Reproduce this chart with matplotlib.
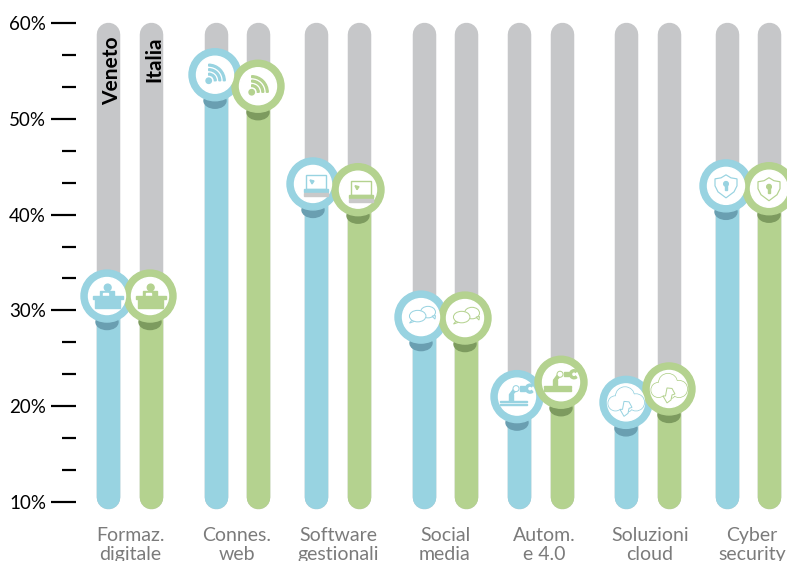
# digital skills chart, Veneto vs Italia

import numpy as np
import matplotlib
matplotlib.use('Agg')
import matplotlib.pyplot as plt
from matplotlib.patches import Circle, Ellipse, Rectangle, Wedge, Polygon
from matplotlib.transforms import Affine2D

plt.rcParams['font.family'] = ['Lato', 'DejaVu Sans']

categories = ['Formaz.\ndigitale', 'Connes.\nweb', 'Software\ngestionali', 'Social\nmedia',
              'Autom.\ne 4.0', 'Soluzioni\ncloud', 'Cyber\nsecurity']
veneto = [31.5, 54.6, 43.2, 29.3, 21.0, 20.4, 43.0]
italia = [31.5, 53.4, 42.6, 29.2, 22.5, 21.8, 42.7]
icons = ['desk', 'wifi', 'laptop', 'chat', 'robot', 'cloud', 'shield']

# layout, all in pixels of the picture
W, H = 787, 561
bar_x_v = [108, 215.5, 316, 424, 519, 626, 727]
bar_x_i = [151, 258, 359, 466, 562, 669, 769]
badge_x_v = [107, 215, 313, 421, 517, 626, 726]
badge_x_i = [150, 258, 358, 465, 561, 669, 769]
label_x = [130, 237, 338, 445, 544, 650, 752]
bar_w = 23.5

BLUE = '#98d3e1'
GREEN = '#b4d28f'
GREY = '#c6c7c9'
BLUE_DK = '#6a9fb1'
GREEN_DK = '#7d9b5f'
PX = 0.72  # points per pixel at dpi 100

fig = plt.figure(figsize=(W / 100, H / 100), dpi=100)
ax = fig.add_axes([76 / W, 0, 1 - 76 / W, 1])
ax.set_xlim(76, W)
# 60% sits at pixel 23, 10% at pixel 502
per = (502 - 23) / 50
ax.set_ylim(10 - (H - 502) / per, 60 + 23 / per)
for s in ax.spines.values():
    s.set_visible(False)
ax.patch.set_alpha(0)

# axis ticks
ax.set_xticks([])
ax.set_yticks([10, 20, 30, 40, 50, 60])
ax.set_yticklabels(['10%', '20%', '30%', '40%', '50%', '60%'])
ax.set_yticks([v for v in np.arange(10, 60, 10 / 3) if round(v) % 10 != 0], minor=True)
ax.tick_params(axis='y', which='major', length=25 * PX, width=2.2 * PX, pad=5 * PX,
               labelsize=13.5, color='black')
ax.tick_params(axis='y', which='minor', length=14 * PX, width=2.2 * PX, color='black')


# icons are drawn in pixels round the badge centre, y going up
def add(tr, patch):
    patch.set_transform(tr)
    patch.set_zorder(6)
    patch.set_clip_on(False)
    ax.add_patch(patch)


def outline(c, lw=1.0):
    return dict(facecolor='white', edgecolor=c, linewidth=lw * PX)


def draw_icon(name, tr, c):
    if name == 'desk':
        add(tr, Circle((0.7, 8.5), 3.4, color=c))
        add(tr, Rectangle((-7, 0), 14, 5.2, color=c))
        add(tr, Rectangle((-4.5, 0.5), 5, 3, color='white'))
        add(tr, Rectangle((-14.5, -3), 30, 3, color=c))
        add(tr, Rectangle((-12, -11.5), 24.5, 8.5, color=c))
    elif name == 'wifi':
        add(tr, Circle((-6.3, -6), 2.7, color=c))
        for r in [7.5, 12, 16.5]:
            add(tr, Wedge((-6.3, -6), r, 0, 90, width=1.8, color=c))
    elif name == 'laptop':
        add(tr, Rectangle((-7, -5), 20, 14, **outline(c, 1.4)))
        add(tr, Polygon([(-3, 4), (1, 3), (-1, 0)], color=c))
        add(tr, Rectangle((-9, -8.5), 24, 3.2, color=c))
        add(tr, Rectangle((-9, -12.5), 24, 3, color='#c9c9c9'))
    elif name == 'chat':
        add(tr, Ellipse((7, 5), 15, 11.5, **outline(c)))
        add(tr, Polygon([(11, 1), (14, -2), (14.5, 1.5)], **outline(c)))
        add(tr, Polygon([(-9, -3), (-11.5, -6), (-6, -4)], **outline(c)))
        add(tr, Ellipse((-3.3, 1), 16.5, 11.5, **outline(c)))
    elif name == 'robot':
        add(tr, Rectangle((-17, -5.5), 27, 1.5, color=c))
        add(tr, Rectangle((-17, -8.5), 27, 1.5, color=c))
        add(tr, Rectangle((-8.5, -4), 4.5, 6.5, color=c))
        add(tr, Polygon([(-7.5, 2), (-4.5, 2), (0, 7), (-2, 9.5)], color=c))
        add(tr, Circle((-1, 8), 3, **outline(c)))
        add(tr, Rectangle((3, 6), 5, 4.5, color=c))
        add(tr, Wedge((13, 8), 4.5, 50, 310, width=2, color=c))
    elif name == 'cloud':
        lobes = [((-10.5, -1), 6.5), ((-1, 6), 8.5), ((10, 0), 7.5), ((0, -3), 6)]
        for xy, r in lobes:
            add(tr, Circle(xy, r + 0.8, color=c))
        for xy, r in lobes:
            add(tr, Circle(xy, r, color='white'))
        add(tr, Polygon([(-2, -14), (-6, -7), (-3.5, -7), (-2, 1), (3, 0.5), (6, -5),
                         (3, -6), (2, -11)], **outline(c)))
    elif name == 'shield':
        add(tr, Polygon([(0, 11), (-5, 8), (-11, 7), (-11, 0), (-8, -6), (0, -12),
                         (8, -6), (11, 0), (11, 7), (5, 8)], **outline(c, 1.2)))
        add(tr, Circle((0, 2), 2.3, color=c))
        add(tr, Rectangle((-1, -4.5), 2, 6, color=c))


def draw_badge(x, val, c, dark, name):
    # badge centre comes from the data scale
    cx, cy = ax.transData.transform((x, val))
    tr = Affine2D().translate(cx, cy)
    sh = Ellipse((0, -26), 22, 15, color=dark)
    sh.set_transform(tr)
    sh.set_zorder(3)
    ax.add_patch(sh)
    for r, col, z in [(26, c, 4), (18.5, 'white', 5)]:
        p = Circle((0, 0), r, color=col)
        p.set_transform(tr)
        p.set_zorder(z)
        p.set_clip_on(False)
        ax.add_patch(p)
    draw_icon(name, tr, c)


# rounded bars: the caps add half a bar width past the line ends
low = 10.55
high = 58.85
for xs, vals, c in [(bar_x_v, veneto, BLUE), (bar_x_i, italia, GREEN)]:
    for x, v in zip(xs, vals):
        ax.plot([x, x], [low, high], color=GREY, lw=bar_w * PX, solid_capstyle='round', zorder=1)
        ax.plot([x, x], [low, v], color=c, lw=bar_w * PX, solid_capstyle='round', zorder=2)

for i in range(len(categories)):
    draw_badge(badge_x_v[i], veneto[i], BLUE, BLUE_DK, icons[i])
    draw_badge(badge_x_i[i], italia[i], GREEN, GREEN_DK, icons[i])

# text, x in data and y as a fraction of the picture height
tr_text = ax.get_xaxis_transform()
for x, lab in zip(label_x, categories):
    ax.text(x, 1 - 527 / H, lab, transform=tr_text, ha='center', va='top', fontsize=14,
            color='#7b7b7b', linespacing=1.12, clip_on=False)

ax.text(bar_x_v[0] + 4, 1 - 36 / H, 'Veneto', transform=tr_text, rotation=90, ha='center', va='top',
        fontsize=15, fontweight='bold', color='black', zorder=7)
ax.text(bar_x_i[0] + 3, 1 - 36 / H, 'Italia', transform=tr_text, rotation=90, ha='center', va='top',
        fontsize=15, fontweight='bold', color='black', zorder=7)

fig.savefig('out.png', dpi=100)
